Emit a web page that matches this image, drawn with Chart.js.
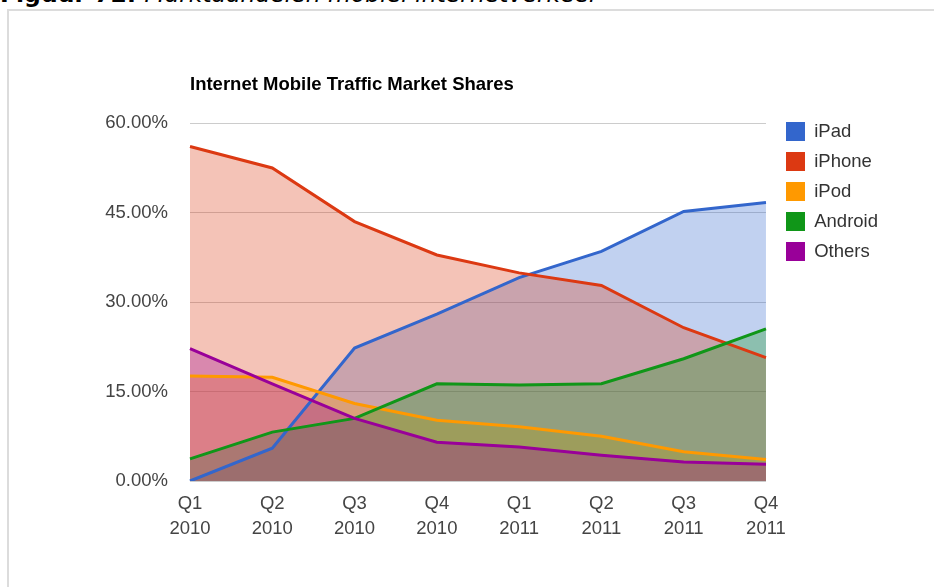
<!DOCTYPE html>
<html>
<head>
<meta charset="utf-8">
<script src="https://cdn.jsdelivr.net/npm/chart.js@4/dist/chart.umd.min.js"></script>
<style>
  html, body { margin: 0; padding: 0; background: #fff; overflow: hidden; }
  #caption {
    position: absolute; left: 0; top: -20px;
    font-family: "DejaVu Sans", Verdana, sans-serif; font-size: 23.5px; line-height: 28px;
    white-space: nowrap; color: #000;
  }
  #caption b { font-weight: bold; }
  #caption i { font-style: italic; }
  #frame {
    position: absolute; left: 7px; top: 9px; width: 1000px; height: 700px;
    border: 2px solid #dcdcdc;
  }
  #wrap { position: absolute; left: 0; top: 0; width: 934px; height: 587px; }
</style>
</head>
<body>
<div id="caption"><b>Figuur 72: </b><i>Marktaandelen mobiel internetverkeer</i></div>
<div id="frame"></div>
<div id="wrap"><canvas id="chart" width="934" height="587"></canvas></div>
<script>
// Quarter labels (two lines each)
const quarters = [['Q1', '2010'], ['Q2', '2010'], ['Q3', '2010'], ['Q4', '2010'],
                  ['Q1', '2011'], ['Q2', '2011'], ['Q3', '2011'], ['Q4', '2011']];

// Market shares in %
const ipad    = [0, 5.5, 22.3, 28.0, 34.1, 38.5, 45.2, 46.7];
const iphone  = [56.1, 52.5, 43.5, 37.9, 34.9, 32.8, 25.7, 20.7];
const ipod    = [17.6, 17.4, 13.0, 10.2, 9.1, 7.5, 4.9, 3.6];
const android = [3.7, 8.2, 10.5, 16.3, 16.1, 16.3, 20.5, 25.5];
const others  = [22.2, 16.3, 10.5, 6.5, 5.7, 4.3, 3.2, 2.8];

const yTicks = [0, 15, 30, 45, 60];

const FONT = '"Liberation Sans", Arial, sans-serif';

function hexA(hex, a) {
  const n = parseInt(hex.slice(1), 16);
  return `rgba(${n >> 16},${(n >> 8) & 255},${n & 255},${a})`;
}

const series = [
  { label: 'iPad', data: ipad, color: '#3366cc' },
  { label: 'iPhone', data: iphone, color: '#dc3912' },
  { label: 'iPod', data: ipod, color: '#ff9900' },
  { label: 'Android', data: android, color: '#109618' },
  { label: 'Others', data: others, color: '#990099' }
];

const datasets = series.map((s, i) => ({
  label: s.label,
  data: s.data,
  borderColor: s.color,
  backgroundColor: hexA(s.color, 0.3),
  borderWidth: 3,
  fill: 'origin',
  tension: 0,
  pointRadius: 0,
  order: series.length - i   // later series drawn on top, like the original
}));

new Chart(document.getElementById('chart'), {
  type: 'line',
  data: { labels: quarters, datasets },
  options: {
    responsive: false,
    animation: false,
    layout: { padding: { left: 0, right: 46, top: 0, bottom: 0 } },
    scales: {
      x: {
        grid: { display: false },
        border: { display: false },
        ticks: {
          color: '#444', padding: 2, maxRotation: 0, autoSkip: false,
          font: { family: FONT, size: 18.5, lineHeight: 1.35 }
        },
        afterFit: (s) => { s.height = 106; }
      },
      y: {
        min: 0, max: 60,
        afterBuildTicks: (s) => { s.ticks = yTicks.map(v => ({ value: v })); },
        grid: { color: '#cccccc', drawTicks: false, lineWidth: 1 },
        border: { display: false },
        ticks: {
          color: '#444', padding: 22,
          font: { family: FONT, size: 18.5 },
          callback: (v) => v.toFixed(2) + '%'
        },
        afterFit: (s) => { s.width = 190; }
      },
      // empty spacer between plot and legend
      gap: {
        position: 'right', display: true,
        grid: { display: false }, border: { display: false },
        ticks: { display: false },
        afterFit: (s) => { s.width = 9; }
      }
    },
    plugins: {
      filler: { drawTime: 'beforeDatasetsDraw' },
      title: {
        display: true,
        text: 'Internet Mobile Traffic Market Shares',
        align: 'start',
        fullSize: false,
        color: '#000',
        font: { family: FONT, size: 18.5, weight: 'bold' },
        padding: { top: 74, bottom: 27 }
      },
      legend: {
        position: 'right',
        align: 'start',
        title: { display: true, text: ' ', font: { size: 10, lineHeight: 1 }, padding: { top: 101, bottom: 0 } },
        labels: {
          boxWidth: 19, boxHeight: 19, padding: 11,
          color: '#333',
          font: { family: FONT, size: 18.5 },
          sort: (a, b) => a.datasetIndex - b.datasetIndex,
          generateLabels: (chart) =>
            Chart.defaults.plugins.legend.labels.generateLabels(chart)
              .map(l => ({ ...l, fillStyle: l.strokeStyle, lineWidth: 0 }))
        }
      },
      tooltip: { enabled: false }
    }
  }
});
</script>
</body>
</html>
